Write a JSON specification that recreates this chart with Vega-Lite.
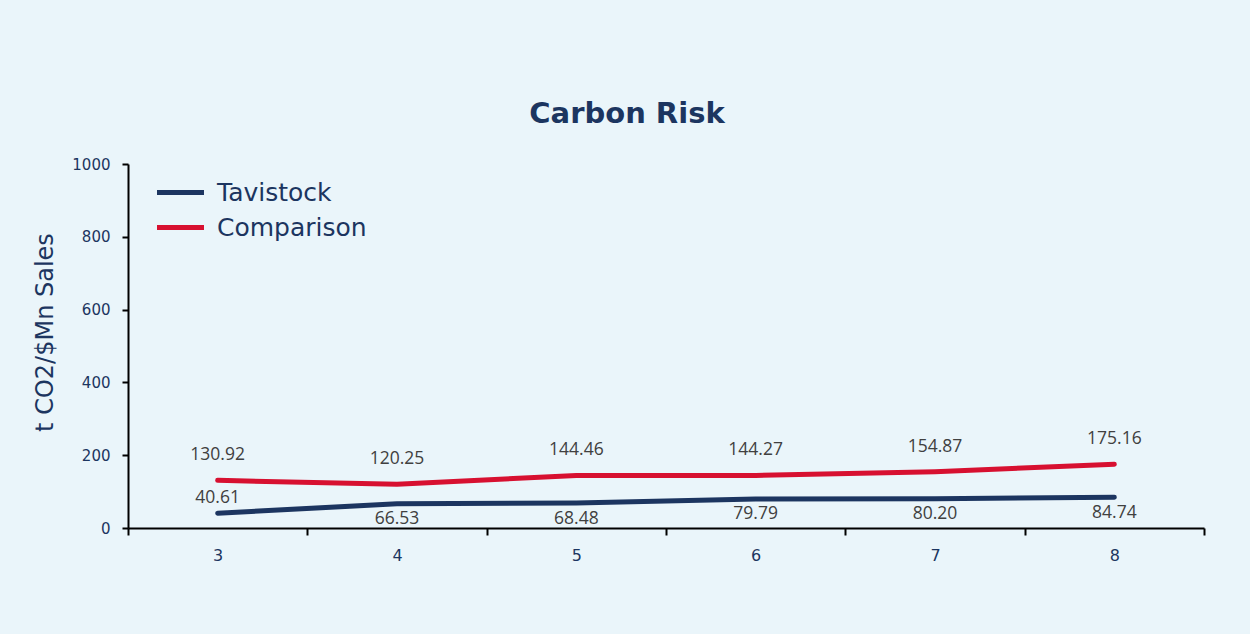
{
  "$schema": "https://vega.github.io/schema/vega-lite/v6.json",
  "autosize": "none",
  "width": 1076,
  "height": 364,
  "padding": {"left": 128, "top": 164, "right": 46, "bottom": 106},
  "background": "#EAF5FA",
  "title": {
    "text": "Carbon Risk",
    "font": "DejaVu Sans",
    "fontSize": 29,
    "fontWeight": "bold",
    "color": "#1C3560",
    "anchor": "middle",
    "dx": -39,
    "offset": 28
  },
  "data": {
    "values": [
      {"period": 3, "series": "Tavistock", "value": 40.61},
      {"period": 4, "series": "Tavistock", "value": 66.53},
      {"period": 5, "series": "Tavistock", "value": 68.48},
      {"period": 6, "series": "Tavistock", "value": 79.79},
      {"period": 7, "series": "Tavistock", "value": 80.20},
      {"period": 8, "series": "Tavistock", "value": 84.74},
      {"period": 3, "series": "Comparison", "value": 130.92},
      {"period": 4, "series": "Comparison", "value": 120.25},
      {"period": 5, "series": "Comparison", "value": 144.46},
      {"period": 6, "series": "Comparison", "value": 144.27},
      {"period": 7, "series": "Comparison", "value": 154.87},
      {"period": 8, "series": "Comparison", "value": 175.16}
    ]
  },
  "encoding": {
    "x": {
      "field": "period",
      "type": "quantitative",
      "scale": {"domain": [2.5, 8.5], "nice": false, "zero": false},
      "axis": {
        "title": null,
        "values": [2.5, 3.5, 4.5, 5.5, 6.5, 7.5, 8.5],
        "labelExpr": "datum.value < 8 ? format(datum.value + 0.5, 'd') : ''",
        "labelOffset": 89.67,
        "labelFlush": false,
        "labelOverlap": false,
        "labelFont": "DejaVu Sans",
        "labelFontSize": 16,
        "labelColor": "#1C3560",
        "labelPadding": 12,
        "tickSize": 7,
        "tickWidth": 2,
        "tickColor": "#000000",
        "domainColor": "#000000",
        "domainWidth": 2,
        "grid": false
      }
    },
    "y": {
      "field": "value",
      "type": "quantitative",
      "scale": {"domain": [0, 1000], "nice": false},
      "axis": {
        "title": "t CO2/$Mn Sales",
        "titleFont": "DejaVu Sans",
        "titleFontSize": 24,
        "titleFontWeight": "normal",
        "titleColor": "#1C3560",
        "titleX": -83,
        "titleY": 168,
        "titleBaseline": "middle",
        "values": [0, 200, 400, 600, 800, 1000],
        "format": "d",
        "labelFont": "DejaVu Sans",
        "labelFontSize": 15,
        "labelColor": "#1C3560",
        "labelPadding": 12,
        "tickSize": 6,
        "tickWidth": 2,
        "tickColor": "#000000",
        "domainColor": "#000000",
        "domainWidth": 2,
        "grid": false
      }
    }
  },
  "layer": [
    {
      "mark": {"type": "line", "strokeWidth": 5, "strokeCap": "round", "strokeJoin": "round"},
      "encoding": {
        "color": {
          "field": "series",
          "type": "nominal",
          "scale": {"domain": ["Tavistock", "Comparison"], "range": ["#1C3560", "#D71030"]},
          "legend": {
            "title": null,
            "orient": "none",
            "legendX": 38,
            "legendY": 14,
            "padding": 0,
            "symbolType": "M-2,0H2",
            "symbolSize": 552,
            "symbolStrokeWidth": 5,
            "labelFont": "DejaVu Sans",
            "labelFontSize": 25,
            "labelColor": "#1C3560",
            "labelOffset": 22,
            "rowPadding": 7
          }
        }
      }
    },
    {
      "transform": [{"filter": "datum.series === 'Comparison'"}],
      "mark": {"type": "text", "font": "Open Sans", "fontSize": 17.5, "color": "#404040", "baseline": "middle", "dy": -25},
      "encoding": {"text": {"field": "value", "type": "quantitative", "format": ".2f"}}
    },
    {
      "transform": [{"filter": "datum.series === 'Tavistock' && datum.period === 3"}],
      "mark": {"type": "text", "font": "Open Sans", "fontSize": 17.5, "color": "#404040", "baseline": "middle", "dy": -15},
      "encoding": {"text": {"field": "value", "type": "quantitative", "format": ".2f"}}
    },
    {
      "transform": [{"filter": "datum.series === 'Tavistock' && datum.period !== 3"}],
      "mark": {"type": "text", "font": "Open Sans", "fontSize": 17.5, "color": "#404040", "baseline": "middle", "dy": 15.5},
      "encoding": {"text": {"field": "value", "type": "quantitative", "format": ".2f"}}
    }
  ],
  "config": {"view": {"stroke": null}}
}
